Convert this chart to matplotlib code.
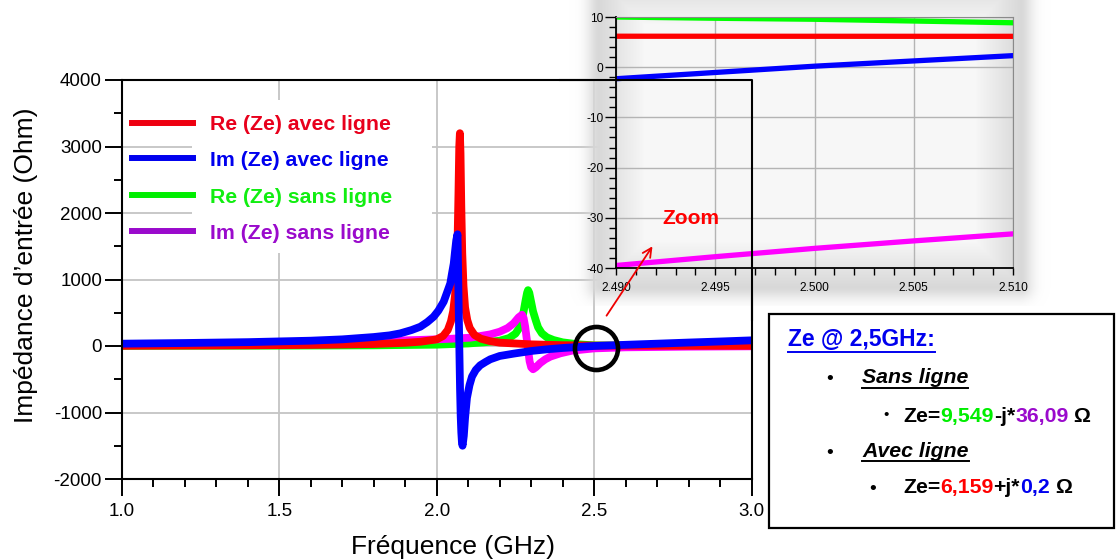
import matplotlib
matplotlib.use('Agg')
import matplotlib.pyplot as plt
from matplotlib.lines import Line2D
from matplotlib.patches import Rectangle, FancyArrowPatch
from matplotlib.ticker import MultipleLocator, FormatStrFormatter
import numpy as np

W, H = 1116, 560

# ---- main chart data (frequency in GHz, impedance in Ohm) ----
freq_re_avec = [1.0, 1.2, 1.4, 1.6, 1.7, 1.8, 1.9, 1.95, 2.0, 2.02, 2.035, 2.045, 2.052, 2.058,
                2.062, 2.066, 2.069, 2.0715, 2.0735, 2.0755, 2.078, 2.081, 2.085, 2.09, 2.097,
                2.105, 2.12, 2.14, 2.17, 2.2, 2.3, 2.4, 2.5, 2.7, 3.0]
re_avec = [3, 6, 10, 16, 22, 30, 48, 65, 100, 150, 240, 370, 520, 760,
           1050, 1550, 2300, 3000, 3200, 2900, 2100, 1400, 900, 580, 390,
           270, 165, 110, 72, 50, 25, 12, 6, 4, 3]

freq_im_avec = [1.0, 1.2, 1.4, 1.6, 1.7, 1.8, 1.85, 1.884, 1.92, 1.948, 1.97, 1.99, 2.005,
                2.022, 2.03, 2.043, 2.048, 2.054, 2.058, 2.062,
                2.066, 2.068, 2.07, 2.072, 2.074, 2.076, 2.078, 2.08, 2.082, 2.086, 2.09,
                2.096, 2.104, 2.112, 2.124, 2.138, 2.155, 2.17, 2.2, 2.244, 2.3, 2.35, 2.4,
                2.45, 2.5, 2.6, 2.7, 2.8, 2.9, 3.0]
im_avec = [35, 45, 58, 80, 100, 135, 160, 190, 240, 290, 360, 440, 530,
           666, 770, 940, 1080, 1240, 1420, 1590,
           1680, 1100, 500, -100, -650, -1050, -1300, -1450, -1500, -1350, -1080,
           -780, -590, -460, -360, -290, -240, -200, -150, -115, -75, -50, -30,
           -15, 0.2, 18, 35, 52, 68, 85]

freq_re_sans = [1.0, 1.5, 1.8, 2.0, 2.1, 2.15, 2.2, 2.23, 2.25, 2.262, 2.27, 2.276, 2.282,
                2.287, 2.29, 2.294, 2.3, 2.306, 2.315, 2.322, 2.334, 2.35, 2.371, 2.4, 2.45,
                2.5, 2.6, 2.8, 3.0]
re_sans = [2, 5, 10, 20, 38, 55, 80, 120, 185, 270, 380, 520, 680,
           800, 840, 800, 660, 520, 380, 280, 190, 130, 90, 55, 25,
           9.5, 5, 3, 2]

freq_im_sans = [1.0, 1.3, 1.6, 1.8, 1.9, 2.0, 2.05, 2.107, 2.17, 2.2, 2.225, 2.244, 2.26, 2.271,
                2.276, 2.281, 2.285, 2.289, 2.295, 2.3, 2.306, 2.315, 2.329, 2.345, 2.361,
                2.393, 2.43, 2.5, 2.6, 2.8, 3.0]
im_sans = [15, 25, 40, 65, 85, 100, 110, 125, 175, 215, 270, 340, 430, 470,
           420, 290, 140, -10, -230, -320, -350, -320, -255, -200, -160,
           -110, -70, -36.09, -20, -10, -5]

# ---- zoomed view around 2.5 GHz ----
zoom_freq = [2.490, 2.495, 2.500, 2.505, 2.510]
zoom_re_sans = [10.0, 9.75, 9.549, 9.2, 8.85]
zoom_im_sans = [-39.5, -37.75, -36.09, -34.6, -33.2]
zoom_re_avec = [6.17, 6.165, 6.159, 6.155, 6.15]
zoom_im_avec = [-2.3, -1.05, 0.2, 1.25, 2.3]

series_colors = ['#00ff00', '#ff00ff', '#ff0000', '#0000ff']  # re_sans, im_sans, re_avec, im_avec

legend_labels = ['Re (Ze) avec ligne', 'Im (Ze) avec ligne', 'Re (Ze) sans ligne', 'Im (Ze) sans ligne']
legend_line_colors = ['#ee0010', '#0000ee', '#00ee00', '#9a0acc']
legend_text_colors = ['#e8001c', '#0000ee', '#11ee11', '#9a0acc']

plt.rcParams['font.family'] = ['Liberation Sans', 'DejaVu Sans']
plt.rcParams['axes.unicode_minus'] = False


def px_rect(l, t, r, b):
    return [l / W, 1 - b / H, (r - l) / W, (b - t) / H]


def fx(x):
    return x / W


def fy(y):
    return 1 - y / H


fig = plt.figure(figsize=(W / 100, H / 100), dpi=100)

# ---------------- main axes ----------------
ax = fig.add_axes(px_rect(122, 80, 751.5, 479), zorder=0)
ax.set_axisbelow(True)
ax.plot(freq_re_sans, re_sans, color=series_colors[0], lw=5.6, zorder=2)
ax.plot(freq_im_sans, im_sans, color=series_colors[1], lw=5.6, zorder=2.1)
ax.plot(freq_re_avec, re_avec, color=series_colors[2], lw=5.6, zorder=2.2)
ax.plot(freq_im_avec, im_avec, color=series_colors[3], lw=5.6, zorder=2.3)

ax.set_xlim(1.0, 3.0)
ax.set_ylim(-2000, 4000)
ax.xaxis.set_major_locator(MultipleLocator(0.5))
ax.xaxis.set_minor_locator(MultipleLocator(0.1))
ax.xaxis.set_major_formatter(FormatStrFormatter('%.1f'))
ax.yaxis.set_major_locator(MultipleLocator(1000))
ax.yaxis.set_minor_locator(MultipleLocator(500))
ax.grid(True, which='major', color='#c4c4c4', lw=1.3)
ax.tick_params(which='major', direction='out', length=12, width=1.4, labelsize=13.5)
ax.tick_params(which='minor', direction='out', length=6, width=1.4)
ax.tick_params(axis='x', which='major', pad=5)
ax.tick_params(axis='y', which='major', pad=2.4)
for sp in ax.spines.values():
    sp.set_linewidth(1.5)

# white box behind the legend text
ax.add_patch(Rectangle((0.111, 0.566), 0.382, 0.384, transform=ax.transAxes,
                       facecolor='white', edgecolor='none', zorder=1))

# circle marking 2.5 GHz
ax.plot([2.505], [-25], 'o', ms=31, mfc='none', mec='black', mew=3.3, zorder=5, clip_on=False)

# legend drawn by hand
legend_rows = [123, 158, 195, 231]
for lab, lc, tc, yy in zip(legend_labels, legend_line_colors, legend_text_colors, legend_rows):
    fig.add_artist(Line2D([fx(132), fx(193)], [fy(yy)] * 2, color=lc, lw=4.3, zorder=3))
    fig.text(fx(210), fy(yy + 2), lab, color=tc, fontsize=15.3, fontweight='bold',
             ha='left', va='center', zorder=3)

fig.text(fx(453), fy(547), 'Fréquence (GHz)', fontsize=19, ha='center', va='center')
fig.text(fx(26), fy(265), 'Impédance d’entrée (Ohm)', fontsize=19, rotation=90,
         ha='center', va='center')

# ---------------- glow behind zoom ----------------
gl = fig.add_axes(px_rect(566, 0, 1052, 306), zorder=1)
gl.axis('off')
yy_, xx_ = np.mgrid[0:306, 0:486] + 0.5
x0, x1, y0, y1 = 34, 454, -20, 286
dx = np.maximum(np.maximum(x0 - xx_, xx_ - x1), 0)
dy = np.maximum(np.maximum(y0 - yy_, yy_ - y1), 0)
dout = np.hypot(dx, dy)
din = np.clip(np.minimum(np.minimum(xx_ - x0, x1 - xx_), np.minimum(yy_ - y0, y1 - yy_)), 0, None)
gray = 0.85 + 0.12 * np.clip(din / 45, 0, 1)
alpha = np.exp(-(dout / 13) ** 2)
gl.imshow(np.dstack([gray, gray, gray, alpha]), aspect='auto', interpolation='bilinear')

# ---------------- zoom inset ----------------
ins = fig.add_axes(px_rect(616, 17, 1013, 268), zorder=2)
ins.set_facecolor('none')
ins.plot(zoom_freq, zoom_re_sans, color=series_colors[0], lw=3.8)
ins.plot(zoom_freq, zoom_im_sans, color=series_colors[1], lw=3.8)
ins.plot(zoom_freq, zoom_re_avec, color=series_colors[2], lw=3.8)
ins.plot(zoom_freq, zoom_im_avec, color=series_colors[3], lw=3.8)
ins.set_xlim(2.490, 2.510)
ins.set_ylim(-40, 10)
ins.xaxis.set_major_locator(MultipleLocator(0.005))
ins.xaxis.set_minor_locator(MultipleLocator(0.001))
ins.xaxis.set_major_formatter(FormatStrFormatter('%.3f'))
ins.yaxis.set_major_locator(MultipleLocator(10))
ins.yaxis.set_minor_locator(MultipleLocator(2))
ins.grid(True, which='major', color='#b4b4b4', lw=1)
ins.set_axisbelow(True)
ins.tick_params(axis='y', which='major', direction='out', length=8, width=1, labelsize=8.6, pad=1.2)
ins.tick_params(axis='y', which='minor', direction='out', length=5, width=1)
ins.tick_params(axis='x', which='both', direction='out', length=5, width=1, labelsize=8.6, pad=5)
ins.spines['left'].set_linewidth(1.3)
ins.spines['bottom'].set_linewidth(1.3)
ins.spines['top'].set_color('#8a8a8a')
ins.spines['right'].set_color('#8a8a8a')

# main frame lines seen over the zoom picture
fig.add_artist(Line2D([fx(560), fx(751.5), fx(751.5)], [fy(80), fy(80), fy(320)],
                      color='black', lw=1.5, zorder=3))

fig.add_artist(FancyArrowPatch((fx(605), fy(318)), (fx(654), fy(244)), transform=fig.transFigure,
                               arrowstyle='->', mutation_scale=16, color='#ee0000', lw=1.3, zorder=4))
fig.text(fx(691), fy(219), 'Zoom', color='#ff0000', fontsize=15, fontweight='bold',
         ha='center', va='center', zorder=4)

# ---------------- text box ----------------
fig.add_artist(Rectangle((fx(769), fy(528)), fx(1114) - fx(769), fy(314) - fy(528),
                         transform=fig.transFigure, facecolor='white', edgecolor='black',
                         lw=1.6, zorder=3))

renderer = fig.canvas.get_renderer()


def seg_text(x, y, parts, **kw):
    for s, c in parts:
        t = fig.text(fx(x), fy(y), s, color=c, ha='left', va='baseline', zorder=5, **kw)
        x += t.get_window_extent(renderer=renderer).width
    return x


def underline(xa, xb, y, color):
    fig.add_artist(Line2D([fx(xa), fx(xb)], [fy(y)] * 2, color=color, lw=1.4, zorder=5))


def bullet(x, y, size):
    fig.text(fx(x), fy(y), '•', fontsize=size, ha='center', va='center_baseline', zorder=5)


xe = seg_text(788, 346.5, [('Ze @ 2,5GHz:', '#0000ee')], fontsize=16.5, fontweight='bold')
underline(788, xe, 352, '#0000ee')

bullet(830, 378, 14)
xe = seg_text(862, 383.3, [('Sans ligne', 'black')], fontsize=15.3, fontweight='bold', style='italic')
underline(862, xe, 387.5, 'black')
bullet(886, 414, 11)
seg_text(903, 421.7, [('Ze=', 'black'), ('9,549', '#00ee00'), ('-j*', 'black'),
                      ('36,09', '#9a0acc'), (' Ω', 'black')], fontsize=15.3, fontweight='bold')

bullet(830, 451, 14)
xe = seg_text(862, 456.7, [('Avec ligne', 'black')], fontsize=15.3, fontweight='bold', style='italic')
underline(862, xe, 461, 'black')
bullet(873, 487, 14)
seg_text(903, 492.7, [('Ze=', 'black'), ('6,159', '#ff0000'), ('+j*', 'black'),
                      ('0,2', '#0000ee'), (' Ω', 'black')], fontsize=15.3, fontweight='bold')

fig.savefig('out.png', dpi=100)
